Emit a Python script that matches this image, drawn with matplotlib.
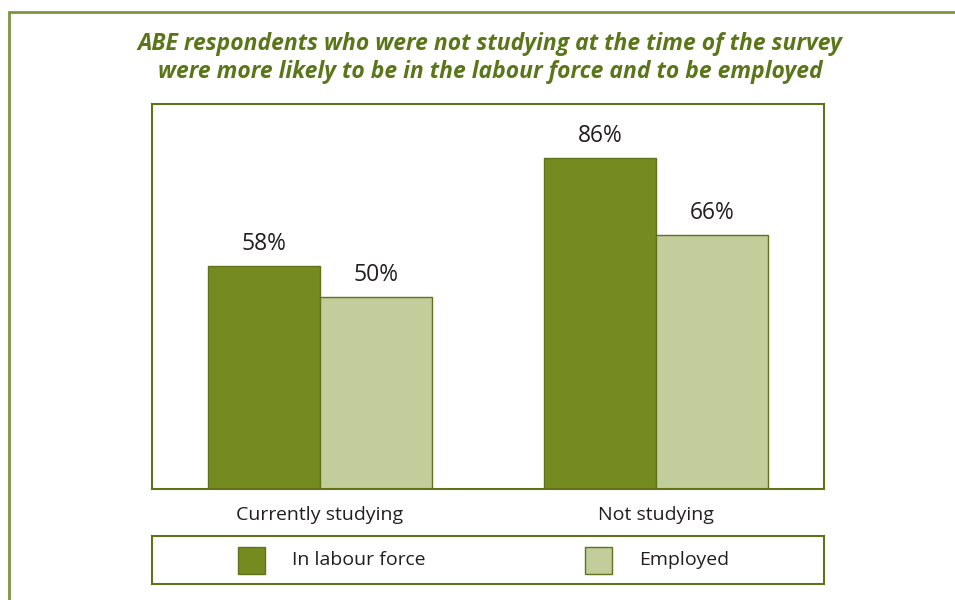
import matplotlib
matplotlib.use('Agg')
import matplotlib.pyplot as plt
import numpy as np
from matplotlib import font_manager as fm
from matplotlib.patches import Rectangle

# Data
groups = ['Currently studying', 'Not studying']
series = ['In labour force', 'Employed']
labour_force = [58, 86]
employed = [50, 66]

title = ('ABE respondents who were not studying at the time of the survey\n'
         'were more likely to be in the labour force and to be employed')

dark = '#768b1f'
light = '#c3cc9b'
edge = '#5f7418'
title_col = '#5b7519'
text_col = '#231f20'


def static_font(fname, size):
    # the variable Open Sans file renders condensed, so pick the static files
    for f in fm.fontManager.ttflist:
        if f.fname.endswith(fname):
            return fm.FontProperties(fname=f.fname, size=size)
    return fm.FontProperties(family='DejaVu Sans', size=size)


title_font = static_font('OpenSans-BoldItalic.ttf', 16.5)
label_font = static_font('OpenSans-Regular.ttf', 14)
value_font = static_font('OpenSans-Regular.ttf', 16.5)

fig = plt.figure(figsize=(9.55, 6.0), dpi=100)

# outer frame, cropped at right and bottom
fig.add_artist(Rectangle((9 / 955, -0.1), 1.2, 1 - 12 / 600 + 0.1,
                         transform=fig.transFigure, fill=False,
                         edgecolor='#7f9442', linewidth=2))

fig.text(490 / 955, 1 - 58 / 600, title, ha='center', va='center',
         fontproperties=title_font, color=title_col, linespacing=1.25)

ax = fig.add_axes([152 / 955, 111 / 600, 672 / 955, 385 / 600])
x = np.arange(len(groups))
w = 1 / 3
b1 = ax.bar(x - w / 2, labour_force, w, color=dark, edgecolor=edge, linewidth=1)
b2 = ax.bar(x + w / 2, employed, w, color=light, edgecolor=edge, linewidth=1)
for bars in (b1, b2):
    ax.bar_label(bars, labels=[f'{v}%' for v in bars.datavalues], padding=7,
                 fontproperties=value_font, color=text_col)

ax.set_xlim(-0.5, 1.5)
ax.set_ylim(0, 100)
ax.set_yticks([])
ax.set_xticks(x)
ax.set_xticklabels(groups, fontproperties=label_font, color=text_col)
ax.tick_params(axis='x', length=0, pad=12)
for s in ax.spines.values():
    s.set_color(edge)
    s.set_linewidth(1.5)

# legend box
lax = fig.add_axes([152 / 955, 16 / 600, 672 / 955, 48 / 600])
lax.set_xlim(0, 672)
lax.set_ylim(0, 48)
lax.set_xticks([])
lax.set_yticks([])
for s in lax.spines.values():
    s.set_color(edge)
    s.set_linewidth(1.5)
for x0, col, lab in [(86, dark, series[0]), (433, light, series[1])]:
    lax.add_patch(Rectangle((x0, 10.5), 27, 27, facecolor=col,
                            edgecolor=edge, linewidth=1))
    lax.text(x0 + 54, 24, lab, ha='left', va='center',
             fontproperties=label_font, color=text_col)

fig.savefig('out.png', dpi=100)
